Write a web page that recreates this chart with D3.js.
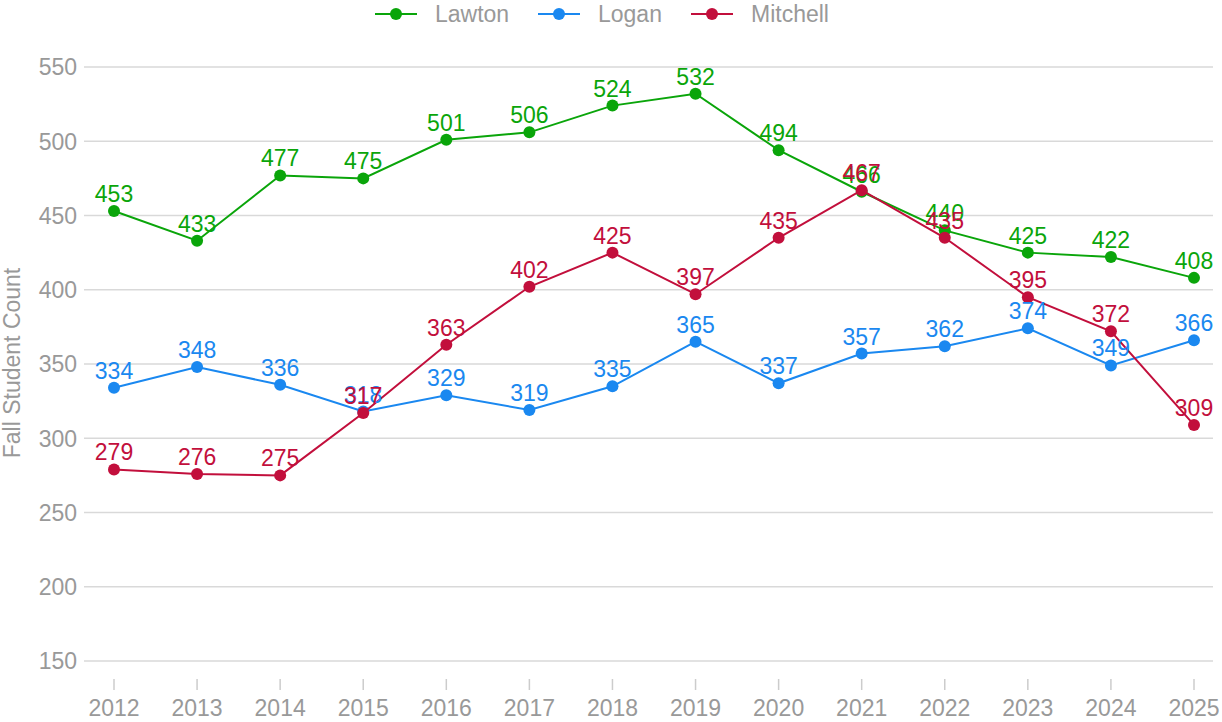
<!DOCTYPE html>
<html>
<head>
<meta charset="utf-8">
<script src="https://cdn.jsdelivr.net/npm/d3@7"></script>
<style>
  body { margin: 0; background: #fff; }
  svg { font-family: "Liberation Sans", Arial, Helvetica, sans-serif; }
</style>
</head>
<body>
<svg id="chart" width="1222" height="722"></svg>
<script>
// chart data
const years = ['2012','2013','2014','2015','2016','2017','2018','2019','2020','2021','2022','2023','2024','2025'];
const lawton = [453, 433, 477, 475, 501, 506, 524, 532, 494, 466, 440, 425, 422, 408];
const logan = [334, 348, 336, 318, 329, 319, 335, 365, 337, 357, 362, 374, 349, 366];
const mitchell = [279, 276, 275, 317, 363, 402, 425, 397, 435, 467, 435, 395, 372, 309];
const yTicks = [150, 200, 250, 300, 350, 400, 450, 500, 550];

const series = [
  { name: 'Lawton', color: '#0aa50a', values: lawton },
  { name: 'Logan', color: '#1a88f0', values: logan },
  { name: 'Mitchell', color: '#c20f3c', values: mitchell },
];

const svg = d3.select('#chart');
const left = 84, right = 1213;

const x = d3.scalePoint()
  .domain(years)
  .range([114, 1194]);

const y = d3.scaleLinear()
  .domain([150, 550])
  .range([661, 67]);

// gridlines + y labels
const grid = svg.append('g');
grid.selectAll('line')
  .data(yTicks)
  .enter().append('line')
  .attr('x1', left).attr('x2', right)
  .attr('y1', d => y(d)).attr('y2', d => y(d))
  .attr('stroke', '#d9d9d9')
  .attr('stroke-width', 1.5);
grid.selectAll('text')
  .data(yTicks)
  .enter().append('text')
  .attr('x', 77)
  .attr('y', d => y(d))
  .attr('dy', '0.36em')
  .attr('text-anchor', 'end')
  .attr('fill', '#999')
  .attr('font-size', 23)
  .text(d => d);

// x axis ticks
const xAxis = svg.append('g');
xAxis.selectAll('line')
  .data(years)
  .enter().append('line')
  .attr('x1', d => x(d)).attr('x2', d => x(d))
  .attr('y1', 679).attr('y2', 690)
  .attr('stroke', '#ccc')
  .attr('stroke-width', 1.5);
xAxis.selectAll('text')
  .data(years)
  .enter().append('text')
  .attr('x', d => x(d))
  .attr('y', 716)
  .attr('text-anchor', 'middle')
  .attr('fill', '#999')
  .attr('font-size', 23)
  .text(d => d);

// y title
svg.append('text')
  .attr('transform', 'translate(20,' + 363 + ') rotate(-90)')
  .attr('text-anchor', 'middle')
  .attr('fill', '#999')
  .attr('font-size', 23)
  .text('Fall Student Count');

const line = d3.line()
  .x((d, i) => x(years[i]))
  .y(d => y(d));

series.forEach(s => {
  const g = svg.append('g');
  g.append('path')
    .datum(s.values)
    .attr('d', line)
    .attr('fill', 'none')
    .attr('stroke', s.color)
    .attr('stroke-width', 2);
  g.selectAll('circle')
    .data(s.values)
    .enter().append('circle')
    .attr('cx', (d, i) => x(years[i]))
    .attr('cy', d => y(d))
    .attr('r', 6)
    .attr('fill', s.color);
});

series.forEach(s => {
  svg.append('g').selectAll('text')
    .data(s.values)
    .enter().append('text')
    .attr('x', (d, i) => x(years[i]))
    .attr('y', d => y(d) - 9)
    .attr('text-anchor', 'middle')
    .attr('fill', s.color)
    .attr('font-size', 23)
    .text(d => d);
});

// legend
const legendX = [375, 538, 691];
const legend = svg.append('g');
series.forEach((s, i) => {
  const lg = legend.append('g').attr('transform', 'translate(' + legendX[i] + ',14)');
  lg.append('line')
    .attr('x1', 0).attr('x2', 42)
    .attr('y1', 0).attr('y2', 0)
    .attr('stroke', s.color)
    .attr('stroke-width', 2);
  lg.append('circle')
    .attr('cx', 21).attr('cy', 0).attr('r', 6)
    .attr('fill', s.color);
  lg.append('text')
    .attr('x', 60)
    .attr('y', 0)
    .attr('dy', '0.36em')
    .attr('fill', '#999')
    .attr('font-size', 23)
    .text(s.name);
});
</script>
</body>
</html>
